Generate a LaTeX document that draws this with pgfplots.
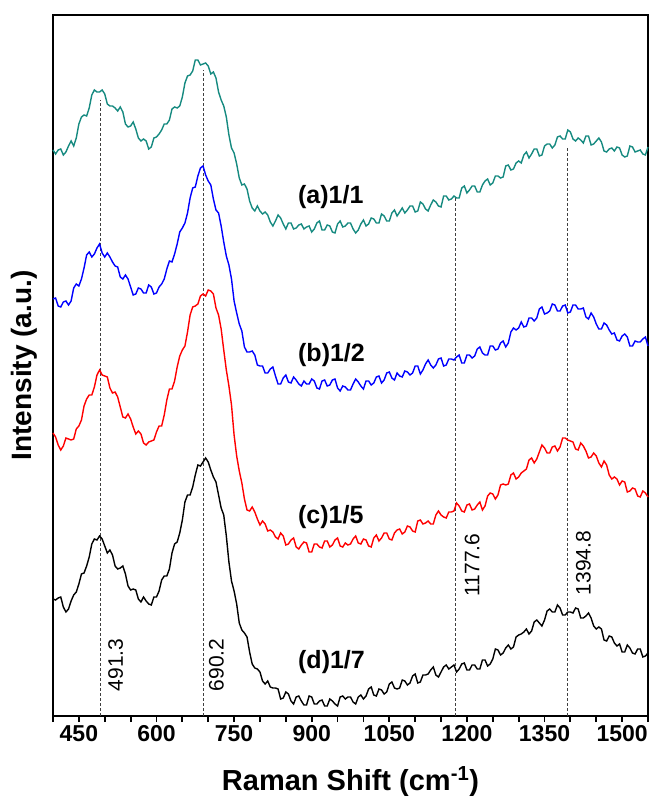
\documentclass[border=0pt]{standalone}
\usepackage{pgfplots}
\pgfplotsset{compat=1.18}
\usepackage{pgfplotstable}
\usepackage{fontspec}
\setmainfont{Liberation Sans}
\definecolor{tealc}{RGB}{22,138,128}

\pgfplotstableread{
x a b c d
400 566 417 283 117
405 562 418 279 116
410 566 410 271 118
415 567 409 266 119
420 561 414 270 109
425 564 415 278 104
430 570 411 277 107
435 575 415 276 115
440 570 428 277 121
445 578 432 287 124
450 592 430 290 132
455 599 437 296 142
460 601 448 310 143
465 600 461 317 150
470 608 464 321 159
475 621 459 321 172
480 626 462 329 177
485 624 468 341 176
490 624 472 346 180
495 626 463 341 177
500 622 459 340 170
505 612 463 339 163
510 610 459 328 166
515 610 454 323 161
520 608 450 324 150
525 605 449 319 147
530 609 439 309 148
535 604 437 299 150
540 592 441 298 142
545 589 437 302 130
550 590 429 297 126
555 594 421 289 127
560 587 422 282 126
565 578 428 285 117
570 575 427 282 114
575 577 423 273 119
580 575 423 271 115
585 567 431 274 112
590 569 429 275 111
595 578 422 276 119
600 579 423 284 119
605 582 429 290 125
610 586 432 290 136
615 592 437 301 140
620 592 447 316 140
625 596 455 327 147
630 607 454 327 163
635 609 462 335 172
640 608 472 349 174
645 610 484 360 183
650 619 488 366 196
655 633 493 370 214
660 640 503 384 221
665 641 518 401 221
670 645 528 409 229
675 656 529 410 241
680 656 540 412 251
685 651 548 420 250
690 652 550 422 254
695 653 541 420 258
700 650 535 426 254
705 642 531 425 246
710 644 517 422 239
715 638 506 408 234
720 624 503 401 221
725 616 490 387 208
730 610 474 366 201
735 599 460 346 180
740 581 451 330 154
745 568 437 311 135
750 563 415 281 125
755 552 403 260 112
760 538 392 245 93
765 531 385 233 86
770 532 369 217 83
775 527 364 206 79
780 515 364 205 64
785 508 365 209 52
790 505 361 204 48
795 510 351 197 47
800 505 350 191 44
805 502 350 195 35
810 504 343 192 32
815 501 343 185 35
820 494 347 186 29
825 490 349 184 28
830 495 340 179 28
835 501 332 177 27
840 498 332 183 17
845 492 338 180 18
850 487 341 171 24
855 493 334 172 22
860 493 333 176 15
865 487 339 178 12
870 488 336 169 19
875 491 332 167 20
880 492 330 171 15
885 487 335 174 11
890 489 332 173 11
895 490 332 164 20
900 484 337 164 19
905 487 335 172 12
910 493 328 172 12
915 495 327 169 15
920 486 335 168 16
925 486 336 175 10
930 491 330 175 10
935 490 331 169 17
940 484 336 171 15
945 483 337 176 12
950 492 328 178 10
955 495 325 170 19
960 489 330 169 20
965 490 329 173 17
970 493 326 171 19
975 493 326 172 19
980 487 332 177 14
985 483 337 180 12
990 486 334 173 19
995 492 330 172 21
1000 496 327 177 17
1005 490 335 176 20
1010 492 335 170 27
1015 498 331 169 29
1020 497 333 178 21
1025 493 339 181 20
1030 493 340 175 27
1035 502 333 178 26
1040 500 336 183 22
1045 495 343 183 24
1050 495 344 177 32
1055 503 338 176 34
1060 506 336 183 28
1065 500 343 186 27
1070 504 340 187 28
1075 508 339 182 36
1080 503 345 184 35
1085 506 344 190 31
1090 510 341 189 33
1095 510 343 185 40
1100 504 350 184 42
1105 505 350 195 33
1110 514 342 196 34
1115 512 346 192 41
1120 507 352 193 41
1125 505 356 195 42
1130 511 351 192 46
1135 516 348 192 49
1140 514 351 201 41
1145 510 357 205 39
1150 509 358 201 44
1155 520 350 199 49
1160 520 351 198 51
1165 516 357 204 47
1170 517 357 204 49
1175 520 356 205 51
1180 518 359 213 44
1185 518 361 210 47
1190 528 353 205 52
1195 530 353 204 53
1200 523 361 211 46
1205 526 361 212 46
1210 530 358 206 51
1215 530 360 207 51
1220 524 367 211 47
1225 524 369 214 47
1230 531 363 206 56
1235 535 361 210 56
1240 537 361 220 50
1245 531 370 223 52
1250 533 370 222 57
1255 540 366 217 67
1260 540 367 221 66
1265 538 373 231 61
1270 539 375 232 63
1275 550 369 231 68
1280 551 373 232 71
1285 546 384 241 67
1290 547 388 243 69
1295 553 386 237 79
1300 555 388 239 81
1305 553 394 243 82
1310 561 389 245 84
1315 564 390 247 87
1320 558 398 256 82
1325 562 398 258 85
1330 567 395 253 94
1335 567 398 257 96
1340 560 407 264 93
1345 561 409 271 90
1350 570 402 268 96
1355 572 403 263 105
1360 572 405 263 107
1365 568 412 269 104
1370 571 411 270 104
1375 579 405 265 111
1380 580 405 269 108
1385 577 410 278 101
1390 577 411 278 101
1395 586 403 276 104
1400 584 404 275 104
1405 577 411 274 103
1410 575 411 267 108
1415 578 407 266 107
1420 576 407 273 98
1425 573 408 270 98
1430 580 399 265 100
1435 580 397 258 103
1440 571 403 259 98
1445 572 399 263 90
1450 575 392 260 87
1455 578 387 253 89
1460 574 387 249 87
1465 565 393 255 76
1470 564 391 251 75
1475 567 386 241 80
1480 568 382 237 79
1485 565 383 239 73
1490 569 376 237 70
1495 568 375 231 72
1500 561 380 235 64
1505 559 382 234 64
1510 560 379 224 71
1515 570 370 225 68
1520 569 370 228 63
1525 564 375 227 62
1530 565 374 220 67
1535 566 374 219 67
1540 562 377 225 59
1545 561 379 223 60
1550 569 370 219 63
}\spectra

\begin{document}
\begin{tikzpicture}
\begin{axis}[
  name=ax,
  scale only axis,
  width=595pt, height=701pt,
  xmin=400, xmax=1550, ymin=0, ymax=701,
  xtick={450,600,...,1500},
  minor xtick={400,500,550,650,700,800,850,950,1000,1100,1150,1250,1300,1400,1450,1550},
  ytick=\empty,
  xtick pos=bottom,
  tick align=outside,
  major tick length=6pt, minor tick length=6pt,
  tick style={line width=1.8pt, black},
  axis line style={line width=2.2pt},
  tick label style={font=\fontsize{23}{23}\selectfont\bfseries},
  /pgf/number format/assume math mode=true,
  /pgf/number format/1000 sep={},
  clip=false,
]
\addplot[densely dashed, line width=0.9pt, black!75] coordinates {(491.3,0) (491.3,616)};
\addplot[densely dashed, line width=0.9pt, black!75] coordinates {(690.2,0) (690.2,646)};
\addplot[densely dashed, line width=0.9pt, black!75] coordinates {(1177.6,0) (1177.6,519)};
\addplot[densely dashed, line width=0.9pt, black!75] coordinates {(1394.8,0) (1394.8,569)};

\addplot[tealc, line width=1.4pt] table[x=x, y=a] {\spectra};
\addplot[blue, line width=1.4pt] table[x=x, y=b] {\spectra};
\addplot[red, line width=1.4pt] table[x=x, y=c] {\spectra};
\addplot[black, line width=1.4pt] table[x=x, y=d] {\spectra};

\node[rotate=90, font=\fontsize{21}{21}\selectfont] at (axis cs:521,51) {491.3};
\node[rotate=90, font=\fontsize{21}{21}\selectfont] at (axis cs:716,51) {690.2};
\node[rotate=90, font=\fontsize{21}{21}\selectfont] at (axis cs:1210,151) {1177.6};
\node[rotate=90, font=\fontsize{21}{21}\selectfont] at (axis cs:1425,153) {1394.8};

\node[anchor=west, font=\fontsize{25}{25}\selectfont\bfseries] at (axis cs:867,519) {(a)1/1};
\node[anchor=west, font=\fontsize{25}{25}\selectfont\bfseries] at (axis cs:867,361) {(b)1/2};
\node[anchor=west, font=\fontsize{25}{25}\selectfont\bfseries] at (axis cs:867,199) {(c)1/5};
\node[anchor=west, font=\fontsize{25}{25}\selectfont\bfseries] at (axis cs:867,54) {(d)1/7};
\end{axis}
\node[rotate=90, font=\fontsize{28}{28}\selectfont\bfseries] at ([xshift=-29pt]ax.west) {Intensity (a.u.)};
\node[anchor=base, font=\fontsize{29}{29}\selectfont\bfseries] at ([yshift=-74pt]ax.south) {Raman Shift (cm\textsuperscript{-1})};
\pgfresetboundingbox
\path[use as bounding box] ([xshift=-53pt,yshift=-81pt]ax.south west) rectangle ([xshift=5pt,yshift=15pt]ax.north east);
\end{tikzpicture}
\end{document}
